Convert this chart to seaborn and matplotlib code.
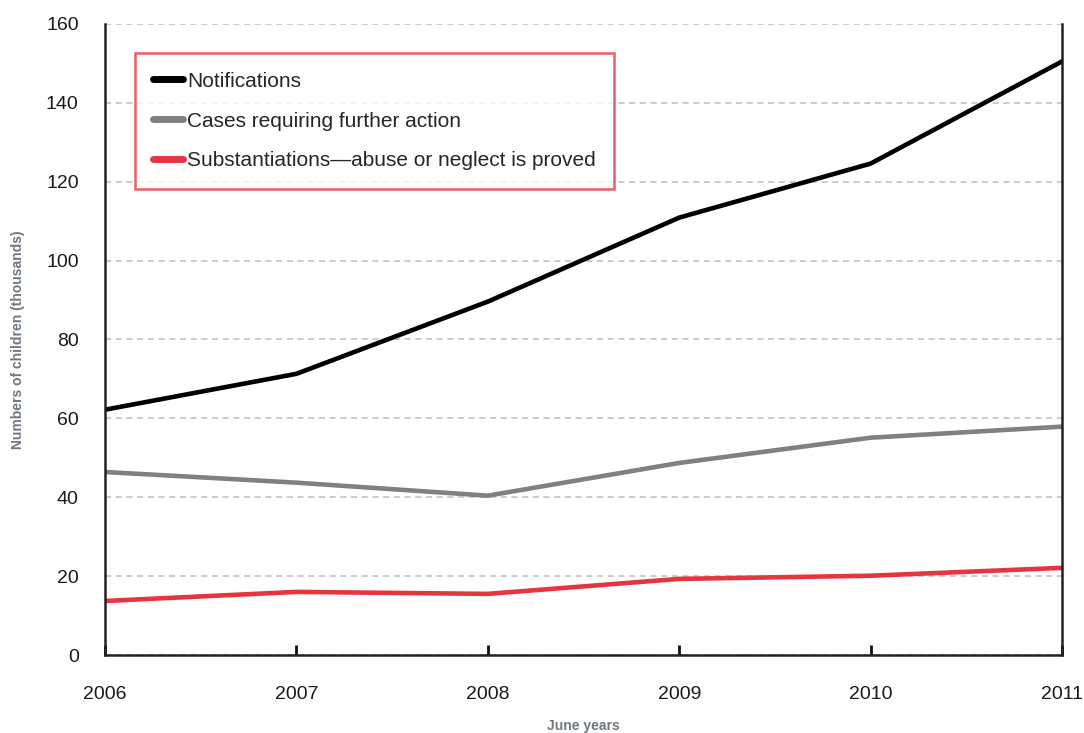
import matplotlib
matplotlib.use("Agg")
import matplotlib.pyplot as plt
import seaborn as sns
import pandas as pd
from matplotlib import font_manager

years = [2006, 2007, 2008, 2009, 2010, 2011]
notifications = [62.2, 71.3, 89.6, 110.9, 124.6, 150.5]
further_action = [46.4, 43.7, 40.4, 48.7, 55.1, 57.9]
substantiations = [13.7, 16.0, 15.5, 19.3, 20.1, 22.1]
series_names = ["Notifications", "Cases requiring further action",
                "Substantiations\u2014abuse or neglect is proved"]
colors = ["#000000", "#808080", "#e8343f"]
y_ticks = [0, 20, 40, 60, 80, 100, 120, 140, 160]

df = pd.DataFrame({
    "year": years * 3,
    "value": notifications + further_action + substantiations,
    "series": [series_names[0]] * 6 + [series_names[1]] * 6 + [series_names[2]] * 6,
})

sns.set_style("white")
avail = {f.name for f in font_manager.fontManager.ttflist}
fam = "Liberation Sans Narrow" if "Liberation Sans Narrow" in avail else "Liberation Sans"
plt.rcParams["font.family"] = [fam, "DejaVu Sans"]

fig = plt.figure(figsize=(10.84, 7.33), dpi=100)
ax = fig.add_axes([0.0969, 0.1064, 0.8828, 0.8609])

sns.lineplot(data=df, x="year", y="value", hue="series", hue_order=series_names,
             palette=colors, linewidth=3.3, ax=ax, legend=True)

ax.set_xlim(2006, 2011)
ax.set_ylim(0, 160)
ax.set_yticks(y_ticks)
ax.set_xticks(years)
ax.set_xticklabels([str(y) for y in years])
ax.yaxis.grid(True, linestyle=(0, (4, 3)), color="#bdbdbd", linewidth=1.1)
ax.set_axisbelow(True)

for s in ["left", "bottom", "right"]:
    ax.spines[s].set_visible(True)
    ax.spines[s].set_color("#222222")
    ax.spines[s].set_linewidth(1.8)
ax.spines["top"].set_visible(False)

ax.tick_params(axis="x", direction="in", length=7, width=2, color="#111111",
               pad=22, labelsize=14, labelcolor="#1a1a1a", bottom=True)
ax.tick_params(axis="y", length=0, pad=19, labelsize=14, labelcolor="#1a1a1a")

ax.set_xlabel("June years", fontsize=10, color="#6f7780", fontweight="bold")
ax.xaxis.set_label_coords(0.4995, -0.1125)
ax.xaxis.label.set_va("center")
ax.set_ylabel("Numbers of children (thousands)", fontsize=10, color="#6f7780",
              fontweight="bold")
ax.yaxis.set_label_coords(-0.091, 0.5)
ax.yaxis.label.set_va("center")

leg = ax.legend(loc="upper left", bbox_to_anchor=(0.031, 0.954), frameon=True,
                fontsize=15, handlelength=1.4, handletextpad=0.2,
                borderpad=0.9, labelspacing=1.0, fancybox=False,
                borderaxespad=0)
leg.get_frame().set_edgecolor("#e8343f")
leg.get_frame().set_linewidth(1.8)
leg.set_title(None)
for line in leg.get_lines():
    line.set_linewidth(5)

fig.savefig("out.png", dpi=100)
